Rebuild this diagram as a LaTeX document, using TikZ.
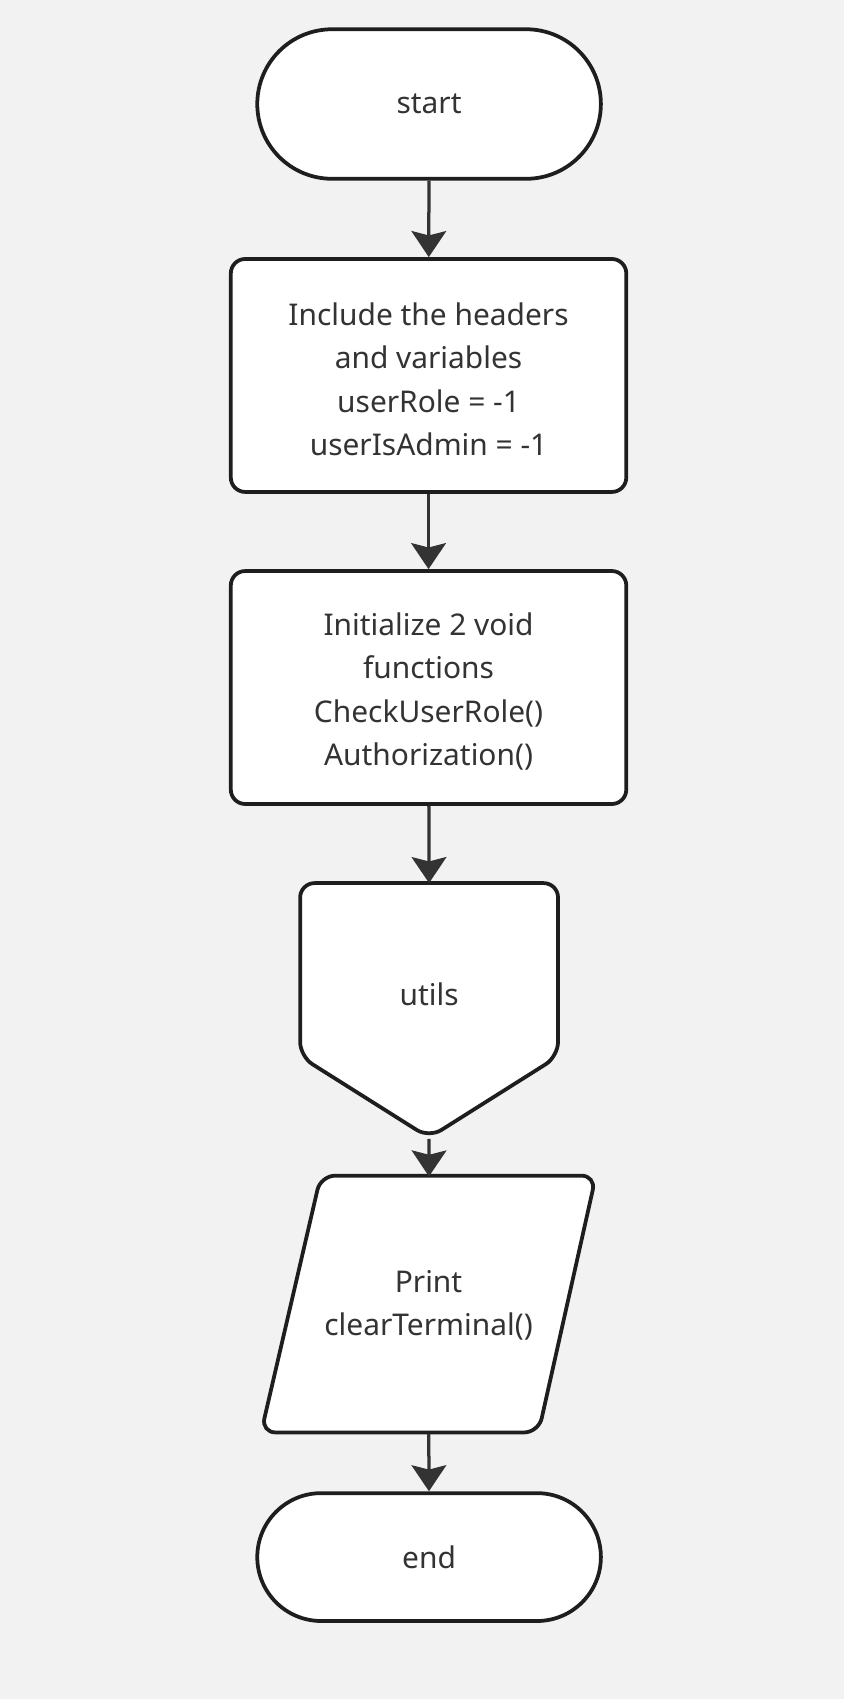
\documentclass[tikz,border=0pt]{standalone}
\usepackage{fontspec}
\setmainfont{Noto Sans}
\usetikzlibrary{shapes.misc,arrows.meta}
\definecolor{bg}{HTML}{F2F2F2}
\definecolor{edge}{HTML}{1E1E1E}
\definecolor{txt}{HTML}{333333}
\newcommand\topgap{\rule{0pt}{21pt}}
\begin{document}
\begin{tikzpicture}[x=0.75pt,y=-0.75pt,
    every node/.style={text=txt,font=\fontsize{20.7}{30}\selectfont,align=center},
    term/.style={draw=edge,line width=2.6pt,fill=white,rounded rectangle,
      minimum width=244.5pt},
    procbox/.style={draw=edge,line width=2.6pt,fill=white,rounded corners=10pt,
      minimum width=273.75pt,minimum height=161.25pt},
    outline/.style={draw=edge,line width=2.6pt,fill=white,rounded corners=10pt},
    flow/.style={draw=txt,line width=2.25pt,
      -{Stealth[length=18pt,width=24pt,inset=3pt]}}]
      \fill[bg] (0,0) rectangle (779,1568) ;
      \useasboundingbox (0,0) rectangle (779,1568) ;
      % terminals and process boxes
      \node[term,minimum height=103.5pt] (start) at (396,96) {start} ;
      \node[procbox] (headers) at (395.5,346.5)
        {\topgap Include the headers\\and variables\\userRole = -1\\userIsAdmin = -1} ;
      \node[procbox] (funcs) at (395.5,634.5)
        {\topgap Initialize 2 void\\functions\\CheckUserRole()\\Authorization()} ;
      % off-page connector
      \draw[outline] (277,815) -- (515,815) -- (515,975) -- (396,1050)
        -- (277,975) -- cycle ;
      \coordinate (utils-n) at (396,815) ;
      \coordinate (utils-s) at (396,1051) ;
      \node (utils) at (396,918) {utils} ;
      % output
      \draw[outline] (296,1085) -- (550,1085) -- (497,1322) -- (241,1322)
        -- cycle ;
      \node[minimum width=231.75pt,minimum height=177.75pt] (print)
        at (395.5,1204.5) {Print\\clearTerminal()} ;
      \node[term,minimum height=88.5pt] (stop) at (396,1437) {end} ;
      % connectors
      \draw[flow] (start) -- (headers) ;
      \draw[flow] (headers) -- (funcs) ;
      \draw[flow] (funcs) -- (utils-n) ;
      \draw[flow] (utils-s) -- (print) ;
      \draw[flow] (print) -- (stop) ;
    \end{tikzpicture}
\end{document}
